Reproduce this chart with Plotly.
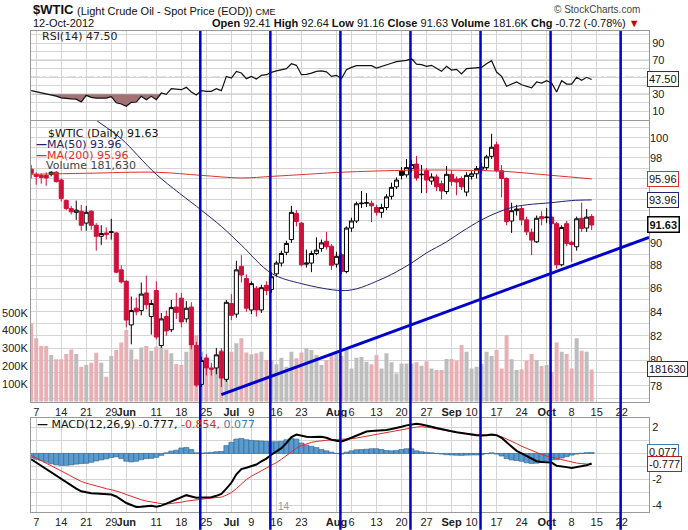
import numpy as np
import pandas as pd
import plotly.graph_objects as go

# ---------------- calendar (trading sessions) ----------------
HOLIDAYS = ["2012-05-28", "2012-07-04", "2012-09-03"]
DAYS = [d for d in pd.bdate_range("2012-05-04", "2012-10-12")
        if d.strftime("%Y-%m-%d") not in HOLIDAYS]
dates = [d + pd.Timedelta(hours=12) for d in DAYS]   # each bar centred on its session

# ---------------- price data ----------------
open_ = [96.9,
         96.4, 96.3, 96.3, 96.4, 96.6,   95.85, 93.9, 93.15, 92.8, 92.9,
         91.8, 92.9, 91.6, 90.6, 90.9,   90.95, 90.9, 87.6, 86.6, 82.9,
         84.3, 84.1, 85.6, 83.6, 85.8,   81.2, 83.6, 82.5, 84.4, 85.15,
         83.4, 84.4, 81.2, 78.1, 80.2,   79.4, 79.4, 80.7, 78.5, 84.7,
         83.8, 87.9, 86.85, 84.15, 86.0, 84.15, 86.25, 85.9, 87.25, 88.2,
         89.15, 90.3, 92.7, 91.8, 88.1,  88.2, 89.05, 89.5, 90.15, 89.7,
         88.1, 88.95, 87.45, 91.35, 92.0, 93.6, 93.65, 93.65, 93.25, 92.8,
         93.25, 94.3, 95.2, 96.7, 96.35, 96.95, 97.4, 96.35, 96.75, 95.75,
         96.15, 95.5, 94.75, 96.4, 95.95, 96.0, 94.7, 96.2, 96.45, 96.9,
         97.05, 98.15, 99.3, 96.75, 96.0, 92.0, 92.95, 93.15, 92.1, 90.95,
         90.1, 92.4, 92.3, 92.35, 91.75, 88.05, 91.75, 90.05, 89.65, 92.25,
         91.35, 92.41]
high = [97.3,
        96.6, 96.5, 96.6, 96.7, 96.7,   96.0, 94.0, 93.4, 93.9, 93.5,
        93.4, 93.0, 91.8, 91.6, 91.4,   92.2, 91.0, 88.0, 86.7, 85.3,
        85.2, 86.5, 87.1, 85.0, 86.6,   83.9, 84.1, 85.0, 85.6, 85.6,
        84.9, 84.8, 81.5, 80.3, 80.5,   79.8, 81.0, 81.0, 85.0, 85.5,
        88.4, 88.9, 87.2, 86.6, 86.2,   86.3, 86.6, 87.4, 88.4, 89.3,
        90.2, 93.4, 93.0, 91.9, 89.4,   89.3, 90.5, 90.3, 91.0, 89.9,
        89.2, 89.1, 91.5, 92.3, 93.8,   94.8, 94.6, 93.9, 93.5, 93.6,
        94.5, 95.6, 96.1, 97.1, 97.9,   97.8, 98.2, 97.3, 97.0, 96.5,
        96.4, 95.8, 97.2, 96.8, 96.2,   96.2, 96.6, 96.7, 97.2, 97.5,
        98.3, 100.4, 99.6, 97.3, 96.1,  93.7, 93.5, 93.4, 92.4, 91.3,
        92.5, 92.9, 93.2, 92.5, 91.9,   91.6, 92.0, 90.2, 92.4, 93.7,
        93.1, 92.64]
low = [96.0,
       95.4, 95.5, 95.3, 96.2, 95.6,   93.8, 93.0, 92.6, 92.1, 91.1,
       91.1, 91.2, 89.3, 89.8, 90.3,   90.3, 87.3, 86.4, 82.7, 81.3,
       83.7, 83.7, 84.2, 82.1, 81.7,   81.0, 82.0, 82.3, 83.4, 82.7,
       83.1, 80.9, 77.9, 77.9, 78.8,   78.8, 78.9, 77.9, 78.3, 83.3,
       83.5, 86.5, 84.0, 83.8, 83.6,   83.9, 85.4, 85.6, 87.0, 87.9,
       88.9, 90.0, 91.5, 87.9, 87.8,   87.4, 88.9, 89.2, 89.4, 87.6,
       87.8, 87.2, 87.3, 91.0, 91.8,   93.2, 93.3, 91.9, 92.5, 92.3,
       93.0, 94.0, 95.0, 95.9, 96.1,   96.6, 95.8, 94.6, 94.6, 95.4,
       94.8, 94.0, 94.5, 95.3, 94.4,   94.9, 94.3, 95.9, 96.0, 96.5,
       96.8, 97.9, 96.6, 94.2, 91.6,   90.9, 92.5, 91.6, 90.7, 88.9,
       90.0, 91.6, 91.8, 91.3, 87.7,   87.9, 89.7, 88.3, 89.3, 91.0,
       91.0, 91.16]
close = [96.5,
         96.2, 96.1, 96.05, 96.6, 95.7,  94.1, 93.15, 92.85, 93.0, 91.6,
         92.8, 91.6, 90.6, 90.85, 90.75, 91.0, 87.4, 86.55, 83.3, 84.1,
         84.0, 85.5, 84.6, 84.7, 81.9,   83.4, 82.4, 84.35, 83.95, 83.15,
         84.3, 81.25, 78.05, 80.0, 79.4, 79.3, 80.45, 78.6, 84.8, 83.7,
         87.6, 87.15, 84.3, 86.4, 84.15, 86.05, 85.8, 87.0, 88.2, 89.05,
         89.95, 92.8, 91.95, 88.05, 88.2, 89.05, 89.35, 90.0, 89.65, 88.0,
         88.8, 87.45, 91.35, 92.0, 93.6, 93.65, 93.7, 93.4, 92.8, 93.25,
         94.25, 95.15, 95.85, 96.3, 97.05, 97.35, 96.05, 96.4, 95.85, 96.15,
         95.2, 94.8, 96.4, 95.7, 95.65,  95.2, 96.3, 96.45, 96.95, 97.1,
         98.1, 99.05, 96.75, 96.0, 91.95, 92.95, 93.1, 92.1, 91.0, 90.25,
         92.25, 92.2, 92.35, 91.75, 88.05, 91.4, 89.95, 89.85, 92.2, 91.3,
         92.35, 91.63]
volume_k = [440,
            356, 313, 313, 262, 238,  238, 268, 294, 268, 197,
            206, 219, 275, 219, 140,  257, 290, 332, 403, 294,
            238, 305, 313, 287, 309,  305, 294, 272, 212, 206,
            281, 313, 375, 281, 238,  178, 257, 290, 425, 281,
            328, 356, 277, 266, 272,  281, 234, 234, 210, 247,
            197, 281, 244, 277, 300,  290, 262, 206, 234, 262,
            277, 258, 300, 187, 247,  251, 225, 210, 262, 187,
            272, 221, 159, 215, 215,  215, 221, 202, 228, 187,
            178, 178, 240, 240, 230,  318, 281, 187, 197, 212,
            281, 257, 290, 187, 375,  238, 178, 182, 230, 268,
            234, 200, 206, 169, 332,  281, 268, 187, 356, 287,
            281, 181.63]

# ---------------- indicator data ----------------
rsi = [34.3,
       33.0, 31.8, 31.0, 29.6, 27.8,  25.8, 24.9, 24.6, 24.3, 21.0,
       28.8, 26.4, 25.6, 25.8, 25.6,  27.2, 20.0, 18.6, 15.9, 20.5,
       20.9, 27.6, 23.7, 27.6, 23.7,  31.5, 30.0, 36.6, 36.2, 35.4,
       38.2, 32.7, 29.2, 34.3, 33.5,  33.5, 36.6, 34.3, 51.1, 49.2,
       57.0, 55.1, 48.4, 51.1, 48.0,  52.3, 53.1, 55.8, 57.5, 59.0,
       60.2, 66.0, 64.1, 53.1, 53.5,  55.0, 57.0, 57.5, 56.5, 51.1,
       52.3, 48.4, 59.0, 61.7, 63.7,  63.7, 63.7, 63.7, 60.9, 62.5,
       65.0, 66.5, 68.5, 69.0, 70.0,  71.9, 65.6, 64.9, 63.0, 64.1,
       60.2, 57.0, 62.9, 58.5, 59.4,  53.9, 60.2, 60.5, 61.0, 61.7,
       66.0, 69.6, 56.2, 51.1, 39.4,  42.0, 44.5, 41.3, 39.0, 37.5,
       44.5, 43.3, 46.0, 43.3, 32.7,  46.0, 42.1, 42.1, 50.0, 46.4,
       50.0, 47.5]
macd = [-0.45,
        -0.7, -1.0, -1.25, -1.5, -1.75,  -1.95, -2.2, -2.45, -2.7, -2.9,
        -3.0, -3.05, -3.08, -3.1, -3.12, -3.15, -3.3, -3.55, -3.8, -3.95,
        -4.1, -4.08, -4.05, -4.02, -4.08, -4.0, -3.85, -3.7, -3.55, -3.4,
        -3.2, -3.3, -3.4, -3.38, -3.36,  -3.35, -3.25, -3.1, -2.7, -2.25,
        -1.6, -1.2, -1.1, -0.95, -0.85,  -0.6, -0.4, -0.1, 0.15, 0.4,
        0.8, 1.25, 1.45, 1.35, 1.28,     1.25, 1.25, 1.28, 1.2, 1.05,
        0.98, 0.92, 1.05, 1.2, 1.4,      1.55, 1.68, 1.72, 1.73, 1.75,
        1.8, 1.88, 1.95, 2.05, 2.15,     2.22, 2.27, 2.22, 2.15, 2.05,
        1.95, 1.85, 1.77, 1.7, 1.62,     1.55, 1.48, 1.45, 1.4, 1.37,
        1.4, 1.45, 1.4, 1.2, 0.85,       0.5, 0.2, 0.0, -0.2, -0.4,
        -0.6, -0.65, -0.68, -0.7, -0.95, -0.98, -1.05, -1.12, -1.05, -0.98,
        -0.9, -0.777]
signal = [-0.15,
          -0.35, -0.55, -0.75, -0.98, -1.2,  -1.4, -1.6, -1.8, -1.98, -2.15,
          -2.28, -2.4, -2.5, -2.6, -2.7,     -2.78, -2.88, -3.0, -3.15, -3.3,
          -3.45, -3.55, -3.65, -3.72, -3.8,  -3.85, -3.88, -3.85, -3.8, -3.74,
          -3.66, -3.6, -3.55, -3.5, -3.46,   -3.42, -3.4, -3.35, -3.2, -3.0,
          -2.7, -2.35, -2.0, -1.75, -1.55,   -1.35, -1.15, -0.95, -0.7, -0.45,
          -0.15, 0.15, 0.4, 0.6, 0.75,       0.85, 0.92, 0.98, 1.03, 1.05,
          1.07, 1.08, 1.1, 1.13, 1.18,       1.25, 1.33, 1.4, 1.48, 1.55,
          1.62, 1.7, 1.77, 1.84, 1.9,        1.96, 2.02, 2.05, 2.02, 1.96,
          1.88, 1.8, 1.74, 1.68, 1.62,       1.56, 1.5, 1.48, 1.46, 1.45,
          1.44, 1.42, 1.38, 1.28, 1.12,      0.95, 0.75, 0.55, 0.38, 0.2,
          0.05, -0.08, -0.2, -0.3, -0.4,     -0.5, -0.6, -0.68, -0.74, -0.78,
          -0.82, -0.854]
hist = [-0.35,
        -0.45, -0.55, -0.68, -0.8, -0.88,  -0.92, -0.92, -0.88, -0.82, -0.78,
        -0.76, -0.68, -0.58, -0.5, -0.42,  -0.32, -0.26, -0.4, -0.6, -0.65,
        -0.6, -0.48, -0.4, -0.38, -0.3,    -0.15, 0.05, 0.18, 0.25, 0.42,
        0.46, 0.3, 0.05, 0.02, 0.05,       0.08, 0.13, 0.15, 0.6, 0.85,
        1.1, 1.15, 1.05, 1.0, 0.97,        0.95, 0.92, 0.9, 0.9, 0.92,
        1.05, 1.15, 1.1, 0.8, 0.64,        0.55, 0.45, 0.3, 0.2, 0.1,
        0.0, -0.05, 0.1, 0.2, 0.28,        0.3, 0.32, 0.36, 0.36, 0.3,
        0.22, 0.2, 0.22, 0.3, 0.36,        0.36, 0.2, 0.13, 0.08, 0.05,
        0.0, -0.05, -0.1, -0.12, -0.14,    -0.15, -0.13, -0.12, -0.12, -0.1,
        -0.02, 0.05, -0.05, -0.2, -0.4,    -0.5, -0.55, -0.6, -0.72, -0.77,
        -0.75, -0.66, -0.55, -0.5, -0.48,  -0.35, -0.25, -0.13, -0.05, 0.02,
        0.06, 0.077]

ma50_dates = ["2012-05-04", "2012-05-11", "2012-05-24", "2012-05-31", "2012-06-11",
              "2012-06-22", "2012-06-28", "2012-07-05", "2012-07-13", "2012-07-23",
              "2012-08-02", "2012-08-07", "2012-08-13", "2012-08-16", "2012-08-22",
              "2012-08-27", "2012-08-31", "2012-09-06", "2012-09-12", "2012-09-17",
              "2012-09-20", "2012-09-25", "2012-10-02", "2012-10-08", "2012-10-12"]
ma50_vals = [106.4, 104.6, 101.4, 99.9, 96.4, 93.0, 91.5, 89.8, 87.3, 86.4,
             85.8, 85.95, 86.6, 87.2, 88.2, 89.1, 90.1, 91.0, 92.1, 92.75,
             93.25, 93.5, 93.7, 93.9, 93.96]
ma200_dates = ["2012-05-04", "2012-05-21", "2012-06-11", "2012-06-22", "2012-07-05",
               "2012-07-13", "2012-07-24", "2012-08-02", "2012-08-22", "2012-09-05",
               "2012-09-18", "2012-10-02", "2012-10-12"]
ma200_vals = [96.4, 96.5, 96.6, 96.3, 96.05, 96.2, 96.4, 96.6, 96.8, 96.8,
              96.7, 96.3, 95.96]

# hand-drawn annotations on the original chart
marker_dates = ["2012-06-22 07:00", "2012-07-13 07:00", "2012-08-02 07:00",
                "2012-08-22 07:00", "2012-09-12 07:00", "2012-10-02 07:00",
                "2012-10-22 07:00"]
support_level = 87.2
trend_dates = ["2012-06-28 12:00", "2012-10-29 23:00"]
trend_vals = [77.3, 90.5]

tick_dates = ["2012-05-07", "2012-05-14", "2012-05-21", "2012-05-29", "2012-06-01",
              "2012-06-11", "2012-06-18", "2012-06-25", "2012-07-02", "2012-07-09",
              "2012-07-16", "2012-07-23", "2012-08-01", "2012-08-06", "2012-08-13",
              "2012-08-20", "2012-08-27", "2012-09-04", "2012-09-10", "2012-09-17",
              "2012-09-24", "2012-10-01", "2012-10-08", "2012-10-15", "2012-10-22"]
tick_text = ["7", "14", "21", "29", "<b>Jun</b>", "11", "18", "25", "<b>Jul</b>", "9",
             "16", "23", "<b>Aug</b>", "6", "13", "20", "27", "<b>Sep</b>", "10", "17",
             "24", "<b>Oct</b>", "8", "15", "22"]
price_ticks = list(range(77, 102))
price_labels = [78, 80, 82, 84, 86, 88, 90, 98, 100]   # 92-96 sit under the value tags

n = len(dates)
for arr in (open_, high, low, close, volume_k, rsi, macd, signal, hist):
    assert len(arr) == n, len(arr)

# ---------------- styling constants ----------------
DAY_MS = 86400000
X_RANGE = ["2012-05-04 11:00", "2012-10-29 23:00"]
RED = "#D0103A"
BLUE = "#0000CC"
GRID = "#D4D4D4"
FRAME = "#9A9A9A"
TICKFONT = dict(family="Liberation Sans, Arial", size=11, color="#222")
LEGFONT = "DejaVu Sans, Verdana"
HDRFONT = "Liberation Sans, Arial"
PRICE_RANGE = [76.76, 101.74]
VOL_MAX = 1580000

prev_close = [close[0] + 1] + close[:-1]
up = [c >= p for c, p in zip(close, prev_close)]
tickvals = [pd.Timestamp(d) + pd.Timedelta(hours=12) for d in tick_dates]

fig = go.Figure()

# volume (base axis of the price panel, drawn underneath)
fig.add_trace(go.Bar(
    x=dates, y=[v * 1000 for v in volume_k], width=0.8 * DAY_MS,
    marker=dict(color=["#BDBDBD" if u else "#E8B0B5" for u in up], line=dict(width=0)),
    xaxis="x2", yaxis="y2", showlegend=False, hoverinfo="skip"))

# candles: black for up-closes, red for down-closes; hollow when close > open
for is_up, col, fill_dn in ((True, "#000000", "#000000"), (False, RED, RED)):
    idx = [i for i in range(n) if up[i] == is_up]
    fig.add_trace(go.Candlestick(
        x=[dates[i] for i in idx], open=[open_[i] for i in idx], high=[high[i] for i in idx],
        low=[low[i] for i in idx], close=[close[i] for i in idx],
        increasing=dict(line=dict(color=col, width=1), fillcolor="#FFFFFF"),
        decreasing=dict(line=dict(color=col, width=1), fillcolor=fill_dn),
        whiskerwidth=0, xaxis="x2", yaxis="y4", showlegend=False, hoverinfo="skip"))

fig.add_trace(go.Scatter(x=[pd.Timestamp(d) + pd.Timedelta(hours=12) for d in ma200_dates],
                         y=ma200_vals, mode="lines", line=dict(color="#E0302A", width=1),
                         line_shape="spline", xaxis="x2", yaxis="y4", showlegend=False,
                         hoverinfo="skip"))
fig.add_trace(go.Scatter(x=[pd.Timestamp(d) + pd.Timedelta(hours=12) for d in ma50_dates],
                         y=ma50_vals, mode="lines", line=dict(color="#22226E", width=1),
                         line_shape="spline", xaxis="x2", yaxis="y4", showlegend=False,
                         hoverinfo="skip"))
fig.add_trace(go.Scatter(x=trend_dates, y=trend_vals, mode="lines",
                         line=dict(color=BLUE, width=3), xaxis="x2", yaxis="y4",
                         showlegend=False, hoverinfo="skip"))

# RSI panel
fig.add_trace(go.Scatter(x=dates, y=[30] * n, mode="lines", line=dict(width=0),
                         xaxis="x", yaxis="y", showlegend=False, hoverinfo="skip"))
fig.add_trace(go.Scatter(x=dates, y=[min(v, 30) for v in rsi], mode="lines",
                         line=dict(width=0), fill="tonexty", fillcolor="#A27272",
                         xaxis="x", yaxis="y", showlegend=False, hoverinfo="skip"))
fig.add_trace(go.Scatter(x=dates, y=[70] * n, mode="lines", line=dict(width=0),
                         xaxis="x", yaxis="y", showlegend=False, hoverinfo="skip"))
fig.add_trace(go.Scatter(x=dates, y=[max(v, 70) for v in rsi], mode="lines",
                         line=dict(width=0), fill="tonexty", fillcolor="#A27272",
                         xaxis="x", yaxis="y", showlegend=False, hoverinfo="skip"))
fig.add_trace(go.Scatter(x=dates, y=rsi, mode="lines", line=dict(color="#111", width=1.2),
                         xaxis="x", yaxis="y", showlegend=False, hoverinfo="skip"))

# MACD panel
fig.add_trace(go.Bar(x=dates, y=hist, width=DAY_MS,
                     marker=dict(color="#5A9BCF", line=dict(color="#2D5F8A", width=0.6)),
                     xaxis="x3", yaxis="y3", showlegend=False, hoverinfo="skip"))
fig.add_trace(go.Scatter(x=dates, y=signal, mode="lines", line=dict(color="#E8262A", width=1),
                         xaxis="x3", yaxis="y3", showlegend=False, hoverinfo="skip"))
fig.add_trace(go.Scatter(x=dates, y=macd, mode="lines", line=dict(color="#000", width=2),
                         xaxis="x3", yaxis="y3", showlegend=False, hoverinfo="skip"))

xcommon = dict(type="date", range=X_RANGE, autorange=False, automargin=False,
               rangebreaks=[dict(bounds=["sat", "mon"]), dict(values=HOLIDAYS)],
               tickmode="array", tickvals=tickvals, ticktext=tick_text, tickangle=0,
               showgrid=True, gridcolor=GRID, gridwidth=1, showline=True, mirror=True,
               linecolor=FRAME, linewidth=1, ticks="", tickfont=TICKFONT, zeroline=False)
ycommon = dict(automargin=False, autorange=False, ticks="", tickfont=TICKFONT,
               zeroline=False, tickmode="array")

fig.update_layout(
    template="none",
    width=688, height=530, paper_bgcolor="white", plot_bgcolor="white",
    margin=dict(l=31, r=39, t=31, b=18, autoexpand=False), showlegend=False,
    boxgap=0.1, boxgroupgap=0.1, boxmode="overlay", barmode="overlay",
    xaxis=dict(xcommon, domain=[0, 1], anchor="y", showticklabels=False),
    xaxis2=dict(xcommon, domain=[0, 1], anchor="y2", matches="x", showticklabels=True,
                rangeslider=dict(visible=False)),
    xaxis3=dict(xcommon, domain=[0, 1], anchor="y3", matches="x", showticklabels=True),
    yaxis=dict(ycommon, domain=[0.816, 1.0], anchor="x", side="right", range=[0.35, 104.5],
               tickvals=list(range(10, 101, 10)),
               ticktext=["10", "", "30", "", "", "", "70", "", "90", ""],
               showgrid=True, gridcolor=GRID, showline=True, mirror=True, linecolor=FRAME),
    yaxis2=dict(ycommon, domain=[0.2293, 0.8139], anchor="x2", side="left", range=[0, VOL_MAX],
                tickvals=[100000, 200000, 300000, 400000, 500000],
                ticktext=["100K", "200K", "300K", "400K", "500K"], showgrid=False,
                showline=True, mirror=True, linecolor=FRAME),
    yaxis4=dict(ycommon, overlaying="y2", anchor="x2", side="right", type="log",
                range=[np.log10(PRICE_RANGE[0]), np.log10(PRICE_RANGE[1])],
                tickvals=price_ticks,
                ticktext=[str(v) if v in price_labels else "" for v in price_ticks],
                showgrid=True, gridcolor=GRID),
    yaxis3=dict(ycommon, domain=[0.0, 0.1954], anchor="x3", side="right", range=[-4.49, 2.715],
                tickvals=[-4, -3, -2, -1, 0, 1, 2],
                ticktext=["-4", "", "-2", "", "", "", "2"], showgrid=True, gridcolor=GRID,
                showline=True, mirror=True, linecolor=FRAME),
)

shapes = []
# RSI reference lines
for lvl, dash in ((30, "solid"), (70, "solid"), (50, "dashdot")):
    shapes.append(dict(type="line", xref="x domain", x0=0, x1=1, yref="y", y0=lvl, y1=lvl,
                       line=dict(color="#666", width=1, dash=dash), layer="below"))
# hand-drawn blue verticals
for d in marker_dates:
    shapes.append(dict(type="line", xref="x", x0=d, x1=d, yref="paper", y0=-0.037, y1=1.0,
                       line=dict(color=BLUE, width=2.5), layer="above"))
# horizontal support line
shapes.append(dict(type="line", xref="x2 domain", x0=0, x1=1, yref="y4",
                   y0=np.log10(support_level), y1=np.log10(support_level),
                   line=dict(color=BLUE, width=3), layer="above"))
fig.update_layout(shapes=shapes)

ann = []


def note(text, x, y, size=11, color="#222", family=LEGFONT, xanchor="left", **kw):
    ann.append(dict(text=text, x=x, y=y, xref="paper", yref="paper", showarrow=False,
                    xanchor=xanchor, yanchor="middle",
                    font=dict(family=family, size=size, color=color), **kw))


def tag(text, y, yref, color, bold=False):
    ann.append(dict(text=f"<b>{text}</b>" if bold else text, x=1, xref="paper", xshift=-2,
                    y=y, yref=yref, showarrow=False, xanchor="left", yanchor="middle",
                    bordercolor=color, borderwidth=1.5 if bold else 1, borderpad=1,
                    bgcolor="white", font=dict(family=HDRFONT, size=11, color="#111")))


last = n - 1
chg = close[last] - prev_close[last]
note("<b>$WTIC</b>", 0.0, 1.0437, size=13, family=HDRFONT, color="#111")
note("(Light Crude Oil - Spot Price (EOD)) <span style='font-size:9px'>CME</span>",
     0.0712, 1.0420, size=11, family=HDRFONT, color="#111")
note("© StockCharts.com", 0.9887, 1.0437, size=10, family=HDRFONT,
     color="#444", xanchor="right")
note("12-Oct-2012", 0.0, 1.0160, size=11, family=HDRFONT, color="#111")
note(f"<b>Open</b> {open_[last]:.2f} <b>High</b> {high[last]:.2f} <b>Low</b> {low[last]:.2f} "
     f"<b>Close</b> {close[last]:.2f} <b>Volume</b> {volume_k[last]:.1f}K "
     f"<b>Chg</b> {chg:.2f} ({chg / prev_close[last] * 100:.2f}%) "
     f"<span style='color:#CC0000'>▼</span>",
     0.9887, 1.0160, size=11, family=HDRFONT, color="#111", xanchor="right")

note(f"RSI(14) {rsi[last]:.2f}", 0.0146, 0.989, size=11)
note(f"$WTIC (Daily) {close[last]:.2f}", 0.0238, 0.7873, size=11, color="#111")
note(f"<b>—</b>MA(50) {ma50_vals[-1]:.2f}", 0.0049, 0.7644, size=11, color="#22226E")
note(f"<b>—</b>MA(200) {ma200_vals[-1]:.2f}", 0.0049, 0.7422, size=11, color="#E0302A")
note(f"Volume {int(round(volume_k[last] * 1000)):,}", 0.0215, 0.7200, size=11, color="#444")
note(f"<b>—</b> MACD(12,26,9) {macd[last]:.3f}, <span style='color:#E8262A'>{signal[last]:.3f},</span>"
     f" <span style='color:#3A7FB8'>{hist[last]:.3f}</span>", 0.0057, 0.1809, size=11,
     color="#111")
note("14", 0.396, 0.0104, size=10, color="#999", family=HDRFONT)

tag(f"{rsi[last]:.2f}", rsi[last], "y", "#333")
tag(f"{ma200_vals[-1]:.2f}", np.log10(ma200_vals[-1]), "y4", "#E0302A")
tag(f"{ma50_vals[-1]:.2f}", np.log10(ma50_vals[-1]), "y4", "#22226E")
tag(f"{close[last]:.2f}", np.log10(close[last]), "y4", "#000", bold=True)
tag(f"{int(round(volume_k[last] * 1000))}", volume_k[last] * 1000, "y2", "#333")
tag(f"{hist[last]:.3f}", hist[last], "y3", "#3A7FB8")
tag(f"{macd[last]:.3f}", macd[last], "y3", "#B02020")
fig.update_layout(annotations=ann)

fig.write_html("out.html", config={"displayModeBar": False},
               post_script="document.body.style.margin='0px';")
